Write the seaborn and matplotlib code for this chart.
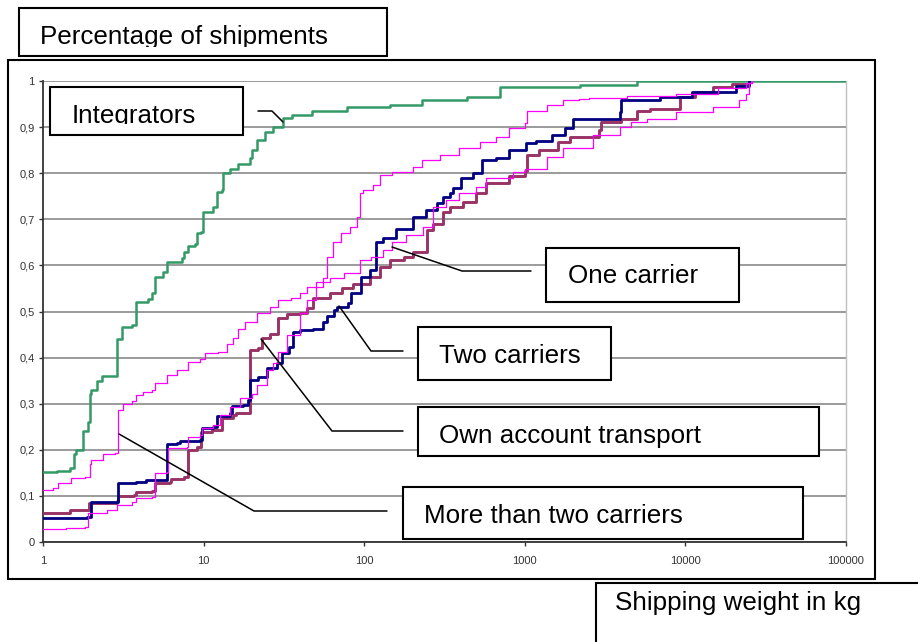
import matplotlib
matplotlib.use("Agg")
import matplotlib.pyplot as plt
from matplotlib.patches import Rectangle
import seaborn as sns

# shipping weight (kg) vs cumulative share of shipments
integrators_kg = [1, 1.22, 1.47, 1.55, 1.6, 1.77, 1.9, 1.96, 2.0, 2.17, 2.33, 2.72, 2.88, 3.1, 3.6,
                  3.8, 4.5, 4.8, 5.0, 5.6, 5.9, 7.3, 7.6, 8.0, 8.8, 9.1, 9.7, 9.9, 11.4, 12.1, 13.0,
                  13.2, 14.6, 16.3, 19.4, 20, 21.5, 24, 27, 31, 35.6, 47.6, 78, 144, 230, 436, 700,
                  2200, 5000, 100000]
integrators_share = [0.151, 0.155, 0.16, 0.19, 0.2, 0.24, 0.26, 0.32, 0.33, 0.35, 0.36, 0.36, 0.44,
                     0.467, 0.47, 0.52, 0.527, 0.54, 0.575, 0.586, 0.607, 0.616, 0.63, 0.643, 0.647,
                     0.67, 0.672, 0.715, 0.726, 0.76, 0.763, 0.8, 0.81, 0.82, 0.832, 0.85, 0.872,
                     0.89, 0.9, 0.92, 0.927, 0.934, 0.943, 0.948, 0.959, 0.966, 0.986, 0.991, 1.0, 1.0]

two_kg = [1, 1.88, 2.0, 2.88, 2.93, 3.8, 4.4, 5.7, 5.9, 6.8, 7.1, 9.5, 9.8, 11.4, 12.1, 14.6, 15,
          17.5, 18.9, 19.4, 21.7, 24.8, 28.5, 30.6, 34, 36, 39.6, 48, 55, 59, 65, 68, 79, 83, 96,
          108, 119, 131, 158, 200, 243, 282, 308, 340, 355, 403, 475, 545, 660, 800, 1020, 1180,
          1470, 1770, 1990, 3930, 4000, 6900, 11000, 20600, 25000]
two_share = [0.053, 0.055, 0.087, 0.087, 0.128, 0.13, 0.134, 0.134, 0.212, 0.215, 0.22, 0.222,
             0.247, 0.25, 0.273, 0.28, 0.295, 0.297, 0.308, 0.351, 0.358, 0.377, 0.388, 0.41,
             0.423, 0.455, 0.46, 0.463, 0.477, 0.49, 0.503, 0.51, 0.518, 0.54, 0.574, 0.59, 0.65,
             0.66, 0.68, 0.705, 0.72, 0.735, 0.748, 0.758, 0.767, 0.789, 0.8, 0.828, 0.832, 0.85,
             0.865, 0.87, 0.883, 0.897, 0.918, 0.932, 0.958, 0.965, 0.976, 0.99, 1.0]

own_kg = [1, 1.37, 1.47, 1.93, 2.88, 2.93, 3.7, 3.8, 4.8, 5.0, 6.2, 6.3, 7.6, 8.0, 9.1, 9.7, 11.3,
          13, 15.2, 16, 18.9, 19.4, 21.7, 23, 25.8, 29, 33, 39.6, 44, 48, 61, 73, 85, 108, 125,
          144, 178, 200, 245, 270, 308, 340, 410, 500, 575, 800, 1000, 1030, 1230, 1600, 1900,
          2900, 3000, 4000, 5000, 6000, 9200, 11500, 14800, 19500, 25000]
own_share = [0.063, 0.063, 0.07, 0.085, 0.09, 0.1, 0.103, 0.108, 0.11, 0.128, 0.13, 0.137, 0.14,
             0.2, 0.206, 0.238, 0.243, 0.27, 0.275, 0.28, 0.28, 0.416, 0.42, 0.442, 0.452, 0.485,
             0.495, 0.497, 0.507, 0.53, 0.54, 0.55, 0.56, 0.575, 0.597, 0.611, 0.618, 0.628, 0.677,
             0.69, 0.715, 0.726, 0.737, 0.756, 0.778, 0.795, 0.804, 0.839, 0.85, 0.867, 0.878,
             0.893, 0.91, 0.918, 0.935, 0.94, 0.965, 0.976, 0.986, 0.993, 1.0]

more_kg = [1, 1.15, 1.24, 1.5, 1.83, 1.96, 2.0, 2.36, 2.8, 2.93, 3.15, 3.6, 3.8, 4.2, 4.8, 5.0,
           5.9, 6.8, 8, 9.5, 10.2, 12.3, 13.9, 15.2, 16.3, 18, 21.5, 25.8, 29, 35, 40, 44, 55, 59,
           64, 72, 81, 90, 94, 98, 113, 125, 150, 200, 230, 295, 390, 525, 660, 800, 1000, 1030,
           1370, 1720, 2180, 2500, 4300, 8800, 16000, 24000, 26000]
more_share = [0.113, 0.117, 0.127, 0.138, 0.14, 0.17, 0.178, 0.19, 0.193, 0.286, 0.3, 0.305,
              0.318, 0.325, 0.33, 0.345, 0.363, 0.373, 0.39, 0.398, 0.41, 0.412, 0.43, 0.442,
              0.463, 0.477, 0.497, 0.51, 0.525, 0.53, 0.54, 0.553, 0.572, 0.618, 0.65, 0.67,
              0.683, 0.705, 0.756, 0.763, 0.774, 0.796, 0.802, 0.813, 0.828, 0.839, 0.854, 0.867,
              0.878, 0.897, 0.908, 0.936, 0.948, 0.958, 0.962, 0.963, 0.968, 0.972, 0.984, 0.995,
              1.0]

one_kg = [1, 1.4, 1.83, 1.9, 2.5, 2.9, 3.6, 3.8, 4.8, 5.0, 5.9, 6.0, 7.9, 8.0, 9.5, 9.8, 11.4,
          12.6, 14.6, 16.8, 20, 21.5, 24.8, 27, 29, 33, 39.6, 44, 50, 61, 75, 94, 110, 131, 148,
          183, 232, 267, 325, 390, 500, 575, 840, 1000, 1370, 1720, 2650, 3900, 4600, 5800, 8800,
          14800, 21600, 24000, 25000, 26000]
one_share = [0.029, 0.031, 0.033, 0.063, 0.07, 0.08, 0.087, 0.095, 0.098, 0.15, 0.152, 0.203,
             0.206, 0.228, 0.232, 0.247, 0.254, 0.276, 0.293, 0.312, 0.32, 0.34, 0.373, 0.388,
             0.412, 0.45, 0.497, 0.524, 0.565, 0.572, 0.583, 0.611, 0.618, 0.633, 0.65, 0.666,
             0.683, 0.726, 0.741, 0.756, 0.77, 0.789, 0.802, 0.81, 0.835, 0.854, 0.883, 0.9, 0.91,
             0.918, 0.932, 0.943, 0.958, 0.972, 0.995, 1.0]

x_ticks = [1, 10, 100, 1000, 10000, 100000]
x_labels = ["1", "10", "100", "1000", "10000", "100000"]
y_ticks = [0, 0.1, 0.2, 0.3, 0.4, 0.5, 0.6, 0.7, 0.8, 0.9, 1]
y_labels = ["0", "0,1", "0,2", "0,3", "0,4", "0,5", "0,6", "0,7", "0,8", "0,9", "1"]

sns.set_theme(style="white")
plt.rcParams["font.family"] = ["Liberation Sans", "DejaVu Sans"]

W, H = 918, 642
fig = plt.figure(figsize=(W / 100, H / 100), dpi=100)
ax = fig.add_axes([43 / W, 1 - 542 / H, (846 - 43) / W, (542 - 81) / H])

series = [
    (integrators_kg, integrators_share, "#339966", 1.8),
    (own_kg, own_share, "#993366", 2.1),
    (two_kg, two_share, "#000080", 2.0),
    (one_kg, one_share, "#FF00FF", 0.9),
    (more_kg, more_share, "#FF00FF", 0.9),
]
for xs, ys, col, lw in series:
    sns.lineplot(x=xs, y=ys, ax=ax, color=col, linewidth=lw, drawstyle="steps-post",
                 estimator=None, sort=False, zorder=3)

ax.set_xscale("log")
ax.set_xlim(1, 100000)
ax.set_ylim(0, 1)
ax.set_xticks(x_ticks)
ax.set_xticklabels(x_labels)
ax.xaxis.set_minor_locator(matplotlib.ticker.NullLocator())
ax.set_yticks(y_ticks)
ax.set_yticklabels(y_labels)
ax.tick_params(axis="both", labelsize=8, length=3, width=1, colors="#333333", pad=3)
ax.tick_params(axis="x", pad=7)
ax.tick_params(bottom=True, left=True)
ax.yaxis.grid(True, color="#808080", linewidth=1.1)
ax.xaxis.grid(False)
ax.set_axisbelow(True)
for s in ["left", "bottom"]:
    ax.spines[s].set_color("#333333")
    ax.spines[s].set_linewidth(1.3)
ax.spines["top"].set_visible(False)
ax.spines["right"].set_color("#c0c0c0")
ax.spines["right"].set_linewidth(1)
ax.set_xlabel("")
ax.set_ylabel("")

# overlay in pixel coordinates for the frame, label boxes and leader lines
ov = fig.add_axes([0, 0, 1, 1], zorder=5)
ov.set_xlim(0, W)
ov.set_ylim(H, 0)
ov.axis("off")
ov.patch.set_alpha(0)

ov.add_patch(Rectangle((8, 60), 867, 519, fill=False, ec="black", lw=1.5))

leaders = [
    [(258, 111), (272, 111), (283, 122)],
    [(392, 247), (462, 271), (531, 271)],
    [(339, 306), (371, 351), (403, 351)],
    [(261, 339), (332, 431), (403, 431)],
    [(119, 434), (254, 511), (387, 511)],
]
for pts in leaders:
    ov.plot([p[0] for p in pts], [p[1] for p in pts], color="black", lw=1.1)

# label, box corners, text position, y where the text gets cut off (None = no cut)
boxes = [
    ("Percentage of shipments", 19, 8, 387, 56, 40, 44, 47),
    ("Integrators", 50, 87, 243, 135, 72, 123, 124),
    ("One carrier", 546, 248, 739, 302, 568, 283, None),
    ("Two carriers", 418, 327, 611, 380, 439, 363, None),
    ("Own account transport", 418, 407, 819, 456, 439, 443, None),
    ("More than two carriers", 403, 487, 803, 539, 424, 523, None),
    ("Shipping weight in kg", 596, 583, 930, 660, 615, 610, None),
]
for label, x0, y0, x1, y1, tx, ty, cut in boxes:
    ov.add_patch(Rectangle((x0, y0), x1 - x0, y1 - y0, fc="white", ec="black", lw=1.5))
    t = ov.text(tx, ty, label, fontsize=18.7, ha="left", va="baseline", color="black")
    if cut is not None:
        clip = Rectangle((x0, y0), x1 - x0, cut - y0, transform=ov.transData)
        t.set_clip_path(clip)
        t.set_clip_on(True)

fig.savefig("out.png", dpi=100)
